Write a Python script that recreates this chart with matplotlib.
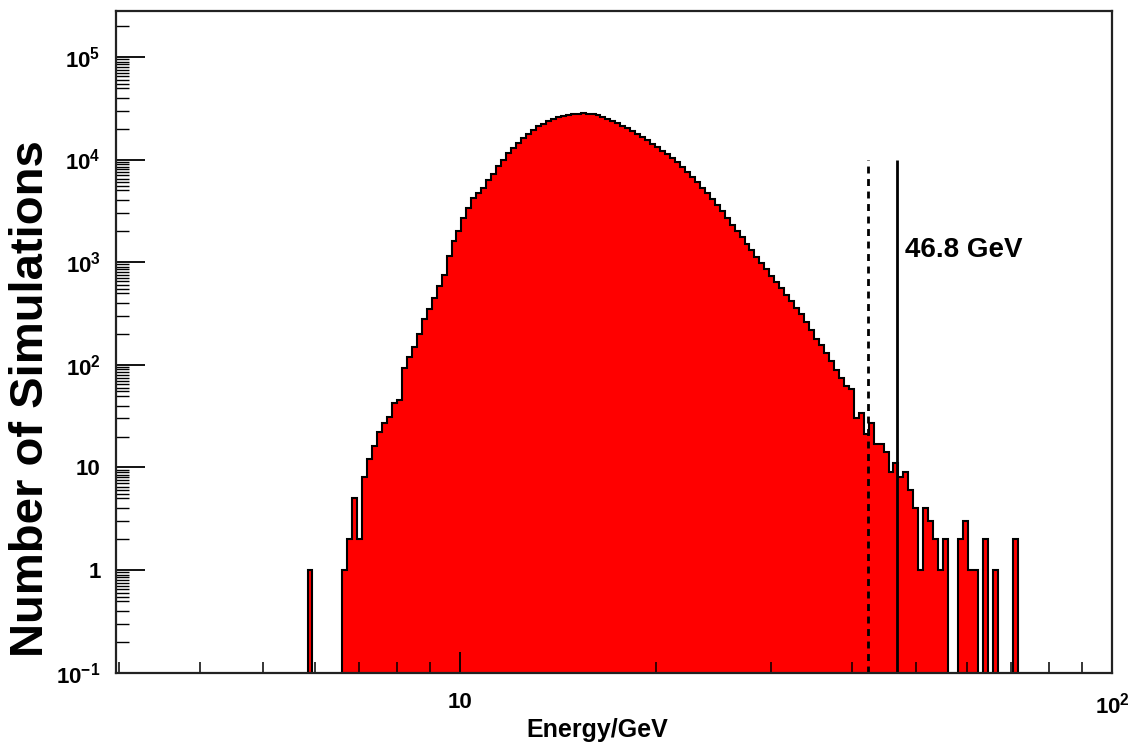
import numpy as np
import matplotlib
matplotlib.use("Agg")
import matplotlib.pyplot as plt
from matplotlib.ticker import LogLocator, NullFormatter

# Histogramm: 200 log-Bins zwischen 3 und 100 GeV
E_MIN, E_MAX, N_BINS = 3.0, 100.0, 200
first_bin = 38
counts = [
    1, 0, 0, 0, 0, 0, 0,                                      # 38-44
    1, 2, 5, 2, 8, 12, 16, 22, 27, 31,                        # 45-54
    42, 45, 94, 120, 150, 200, 280, 350, 450, 580,            # 55-64
    750, 1150, 1600, 2000, 2700, 3400, 4200, 4700, 5300, 6300,  # 65-74
    7200, 8700, 10000, 11500, 13000, 14600, 16200, 17800, 19300, 21000,  # 75-84
    22300, 23500, 24700, 25800, 26700, 27300, 27800, 28000, 28100, 28000,  # 85-94
    27700, 27000, 26000, 24800, 23500, 22600, 21400, 20200, 19000, 17800,  # 95-104
    16700, 15500, 14300, 13100, 12100, 11200, 10300, 9400, 8400, 7500,  # 105-114
    6700, 6000, 5300, 4700, 4100, 3600, 3150, 2700, 2300, 2000,  # 115-124
    1750, 1500, 1300, 1130, 980, 850, 740, 640, 560, 480,     # 125-134
    415, 360, 310, 260, 220, 180, 155, 130, 108, 88,          # 135-144
    75, 62, 58, 30, 34, 21, 27, 17, 17, 14,                   # 145-154
    9, 11, 8, 9, 6, 4, 1, 4, 3, 2,                            # 155-164
    1, 2, 0, 0, 2, 3, 1, 1, 0, 2,                             # 165-174
    0, 1, 0, 0, 0, 2,                                         # 175-180
]

cut_dashed = 42.2   # gestrichelte Linie
cut_solid = 46.8    # durchgezogene Linie
cut_top = 1e4
cut_label = "46.8 GeV"

x_ticks = [10, 100]
x_tick_labels = ["10", r"$10^{2}$"]
y_ticks = [0.1, 1, 10, 100, 1e3, 1e4, 1e5]
y_tick_labels = [r"$10^{-1}$", "1", "10", r"$10^{2}$", r"$10^{3}$", r"$10^{4}$", r"$10^{5}$"]

plt.rcParams["font.family"] = ["Liberation Sans", "DejaVu Sans"]
plt.rcParams["font.weight"] = "bold"
plt.rcParams["mathtext.fontset"] = "custom"
plt.rcParams["mathtext.rm"] = "Liberation Sans:bold"
plt.rcParams["mathtext.bf"] = "Liberation Sans:bold"
plt.rcParams["mathtext.it"] = "Liberation Sans:bold"
plt.rcParams["mathtext.default"] = "bf"

# Zaehlungen auf volle Bin-Anzahl bringen
edges = np.geomspace(E_MIN, E_MAX, N_BINS + 1)
values = np.zeros(N_BINS)
values[first_bin:first_bin + len(counts)] = counts
values_plot = np.where(values > 0, values, 1e-3)

fig = plt.figure(figsize=(11.28, 7.47), dpi=100)
ax = fig.add_axes([0.1028, 0.0995, 0.8830, 0.8858])

ax.stairs(values_plot, edges, fill=True, facecolor="#ff0000", edgecolor="black",
          linewidth=1.5, baseline=1e-3)

ax.vlines(cut_dashed, 0.1, cut_top, colors="black", linewidth=2.0,
          linestyles=(0, (2.5, 2.0)))
ax.vlines(cut_solid, 0.1, cut_top, colors="black", linewidth=2.0)
ax.text(cut_solid * 1.028, 1300, cut_label, fontsize=20, fontweight="bold",
        va="center", ha="left")

ax.set_xscale("log")
ax.set_yscale("log")
ax.set_xlim(2.97, 100)
ax.set_ylim(0.1, 2.8e5)

ax.set_xticks(x_ticks, labels=x_tick_labels)
ax.set_yticks(y_ticks, labels=y_tick_labels)
ax.xaxis.set_minor_locator(LogLocator(base=10, subs=np.arange(2, 10), numticks=20))
ax.yaxis.set_minor_locator(LogLocator(base=10, subs=[2, 3, 4, 5, 5.5, 6, 6.5, 7, 7.5, 8, 8.5, 9, 9.5],
                                      numticks=30))
ax.xaxis.set_minor_formatter(NullFormatter())
ax.yaxis.set_minor_formatter(NullFormatter())

ax.tick_params(axis="x", which="major", direction="in", length=15, width=1.3,
               labelsize=16, pad=14, top=False)
ax.tick_params(axis="x", which="minor", direction="in", length=8, width=1.1, top=False)
ax.tick_params(axis="y", which="major", direction="in", length=21, width=1.3,
               labelsize=16, pad=11, right=False)
ax.tick_params(axis="y", which="minor", direction="in", length=9.5, width=1.0, right=False)

for s in ax.spines.values():
    s.set_linewidth(1.6)
    s.set_color("#222222")

ax.set_xlabel("Energy/GeV", fontsize=18, fontweight="bold")
ax.xaxis.set_label_coords(0.483, -0.068)
ax.set_ylabel("Number of Simulations", fontsize=34, fontweight="bold")
ax.yaxis.set_label_coords(-0.063, 0.414)

fig.savefig("out.png", dpi=100)
